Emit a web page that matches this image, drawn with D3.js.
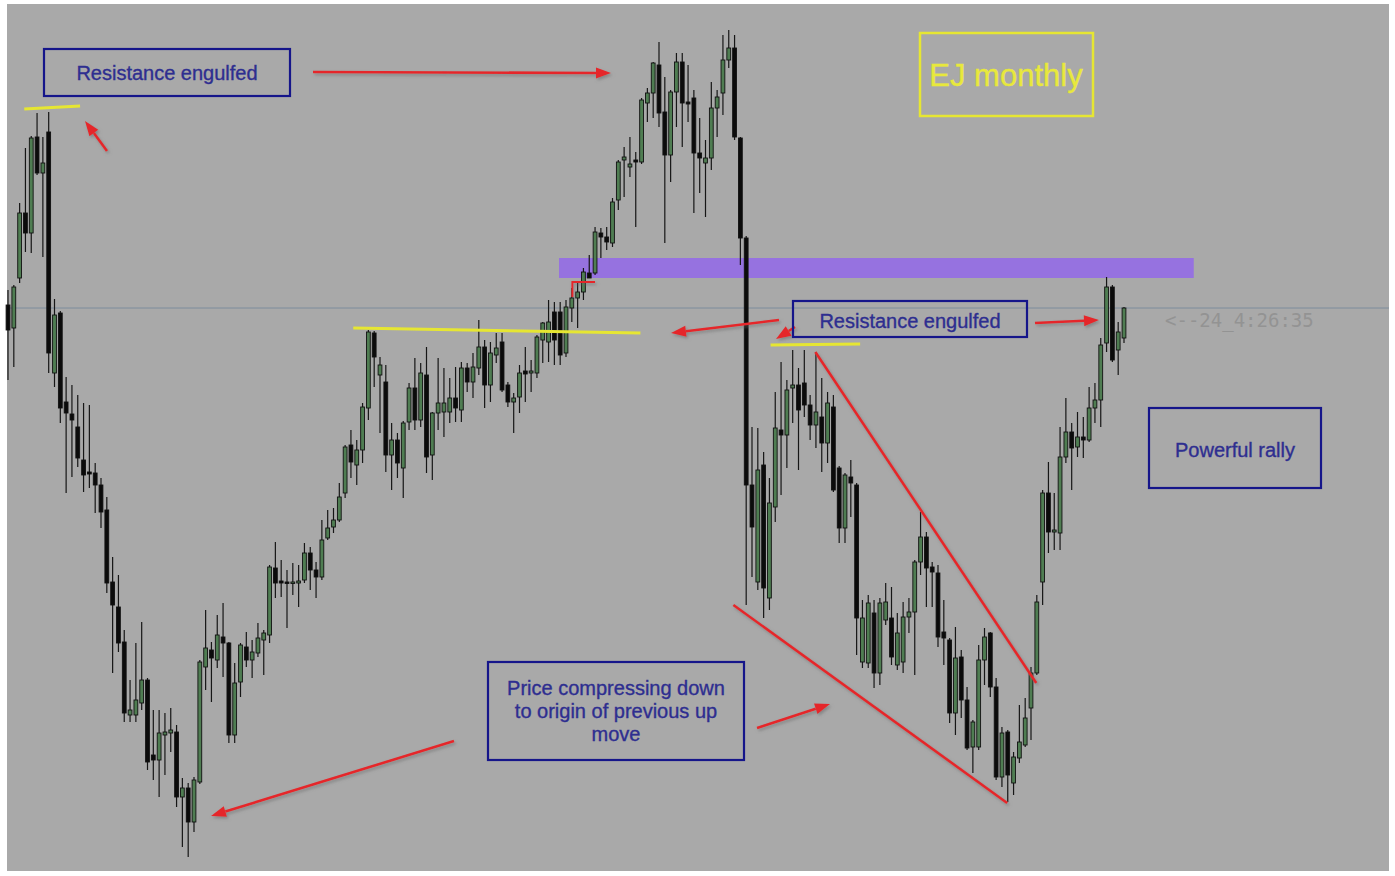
<!DOCTYPE html>
<html>
<head>
<meta charset="utf-8">
<script src="https://cdn.jsdelivr.net/npm/d3@7"></script>
<style>
  body { margin: 0; background: #fff; }
  text { font-family: "Liberation Sans", Arial, sans-serif; }
</style>
</head>
<body>
<script>
// EJ (EUR/JPY) monthly candles, Mar 1998 - Mar 2014
var months = d3.timeMonth.range(new Date(1998, 2, 1), new Date(2014, 3, 1));

var opens = [
  144.5, 142.2, 147.2, 153.7, 151.7, 161.3, 157.7, 161.8, 137.7, 143.7,
  134.8, 133.6, 132.3, 129.0, 127.8, 127.7, 126.5, 124.0, 116.8, 114.3,
  110.8, 103.5, 103.5, 104.7, 107.0, 99.5, 99.0, 101.5, 101.7, 101.8,
  95.3, 96.2, 92.8, 96.8, 108.3, 110.0, 109.0, 111.3, 110.7, 101.5,
  106.8, 110.3, 109.0, 109.7, 111.0, 111.5, 118.2, 116.9, 116.8, 116.7,
  116.7, 117.0, 119.7, 118.0, 117.3, 121.2, 122.3, 123.0, 125.7, 130.5,
  128.5, 130.0, 134.2, 141.7, 137.5, 136.8, 129.5, 131.0, 128.2, 132.8,
  136.2, 133.0, 137.5, 129.5, 133.7, 133.8, 133.8, 135.2, 134.0, 138.2,
  136.8, 138.2, 140.3, 136.5, 139.5, 140.8, 136.5, 134.8, 135.3, 137.9,
  137.7, 137.7, 141.0, 140.8, 143.8, 143.8, 139.7, 144.2, 145.2, 145.8,
  147.7, 147.7, 151.7, 151.3, 150.7, 155.0, 159.0, 158.3, 159.0, 158.8,
  164.7, 165.7, 168.5, 163.8, 159.5, 165.8, 168.8, 164.8, 165.2, 159.7,
  158.7, 159.2, 164.2, 165.7, 169.0, 170.2, 161.2, 151.2, 126.5, 116.8,
  128.5, 115.2, 124.3, 132.0, 131.5, 136.2, 136.5, 136.7, 134.5, 132.5,
  133.3, 130.7, 134.3, 128.2, 122.2, 127.3, 126.5, 108.8, 108.7, 113.7,
  107.7, 113.0, 113.2, 108.5, 108.8, 113.3, 113.8, 118.8, 121.3, 118.3,
  117.7, 111.8, 111.0, 103.7, 109.3, 105.0, 100.3, 100.3, 109.0, 111.7,
  106.3, 97.3, 101.8, 96.7, 99.2, 100.5, 104.2, 107.7, 116.8, 125.7,
  121.8, 121.7, 129.3, 131.8, 130.3, 131.3, 131.0, 134.2, 135.0, 140.7,
  146.3, 140.0, 141.2
];
var highs = [
  146.0, 146.5, 154.7, 160.2, 161.4, 163.7, 161.3, 163.8, 145.1, 143.9,
  137.3, 136.5, 135.5, 134.7, 134.5, 128.7, 127.2, 125.3, 119.3, 117.5,
  112.0, 107.0, 110.7, 112.8, 107.2, 104.0, 104.0, 103.7, 104.2, 102.5,
  97.2, 96.7, 97.3, 109.0, 114.0, 110.8, 113.5, 114.7, 110.8, 108.7,
  110.7, 111.8, 111.0, 112.7, 112.0, 118.5, 120.8, 119.0, 118.0, 118.7,
  118.5, 120.7, 120.3, 118.8, 123.0, 124.0, 124.2, 126.7, 130.5, 132.0,
  131.0, 134.7, 142.0, 141.9, 139.3, 138.5, 132.7, 131.7, 132.9, 136.7,
  139.2, 138.7, 140.3, 133.8, 139.2, 138.2, 137.2, 138.3, 138.8, 138.7,
  139.7, 143.0, 141.0, 140.8, 141.7, 141.7, 136.8, 135.7, 138.5, 140.3,
  139.0, 141.5, 142.8, 145.0, 144.8, 144.8, 145.0, 146.2, 146.7, 148.2,
  149.5, 152.3, 152.2, 152.3, 155.2, 159.0, 160.3, 161.3, 159.8, 165.2,
  166.2, 168.8, 170.8, 167.3, 166.0, 169.7, 169.7, 168.5, 166.0, 163.2,
  161.0, 166.8, 166.0, 171.5, 172.0, 171.5, 161.3, 151.4, 132.3, 132.2,
  129.8, 127.2, 135.8, 138.8, 137.0, 140.0, 138.2, 140.0, 135.5, 139.8,
  137.2, 135.8, 135.5, 128.4, 127.7, 129.0, 126.7, 115.0, 115.5, 115.0,
  115.2, 116.7, 116.3, 113.7, 114.8, 115.2, 119.0, 123.8, 121.8, 118.8,
  118.5, 115.0, 111.2, 112.3, 110.0, 106.3, 103.0, 110.5, 112.2, 111.8,
  107.2, 102.3, 102.0, 99.8, 104.5, 105.2, 108.3, 115.5, 126.0, 128.8,
  125.7, 132.3, 135.2, 132.7, 133.8, 133.3, 136.3, 136.7, 141.2, 147.3,
  146.5, 142.8, 144.3
];
var lows = [
  137.0, 138.3, 146.7, 149.8, 149.7, 157.5, 149.3, 137.7, 136.3, 132.7,
  125.7, 127.3, 128.3, 125.8, 126.2, 123.7, 122.2, 115.7, 107.7, 109.8,
  102.8, 102.8, 102.8, 104.0, 98.0, 97.0, 95.3, 97.5, 99.8, 94.3,
  90.3, 89.3, 91.8, 96.6, 106.0, 104.8, 108.2, 107.3, 100.7, 100.7,
  105.3, 108.3, 107.2, 109.3, 107.5, 110.7, 115.2, 115.3, 112.2, 115.5,
  114.3, 116.7, 116.0, 115.2, 117.0, 121.0, 121.7, 122.8, 125.2, 127.2,
  126.5, 128.7, 133.0, 136.3, 131.7, 127.8, 126.0, 127.2, 125.2, 132.0,
  132.0, 132.3, 127.7, 127.0, 132.0, 131.3, 132.7, 132.8, 132.8, 135.8,
  135.2, 137.5, 134.2, 134.8, 138.7, 135.8, 134.3, 131.7, 133.7, 134.8,
  135.8, 137.2, 138.7, 138.8, 138.5, 138.5, 139.3, 142.8, 142.2, 145.0,
  147.2, 147.5, 149.2, 150.0, 150.3, 154.0, 155.3, 157.3, 152.3, 158.6,
  162.8, 163.2, 162.3, 150.7, 156.8, 162.3, 160.3, 162.8, 153.7, 155.7,
  153.3, 158.0, 161.3, 163.5, 168.2, 161.0, 148.5, 114.5, 117.3, 116.0,
  113.2, 114.0, 122.8, 125.5, 128.2, 132.7, 128.0, 133.3, 131.0, 130.2,
  127.8, 128.7, 125.8, 120.7, 120.7, 123.3, 109.5, 108.2, 108.2, 106.2,
  106.5, 112.5, 108.5, 108.0, 107.7, 111.7, 107.5, 117.5, 114.3, 114.3,
  110.3, 108.5, 102.7, 101.5, 103.2, 100.0, 97.7, 100.0, 106.5, 105.3,
  97.0, 96.3, 94.8, 95.5, 98.7, 100.3, 101.0, 107.5, 114.5, 119.7,
  120.0, 120.0, 128.7, 126.0, 129.3, 129.2, 130.8, 132.7, 132.3, 139.8,
  138.8, 137.5, 140.7
];
var closes = [
  142.0, 146.3, 153.7, 151.7, 161.2, 157.7, 158.7, 139.7, 143.5, 134.2,
  133.7, 133.0, 129.2, 127.5, 127.6, 126.5, 123.8, 116.7, 114.5, 110.7,
  103.7, 104.0, 105.0, 107.0, 98.8, 99.0, 101.7, 101.8, 102.0, 95.3,
  96.2, 92.8, 97.0, 108.8, 110.2, 109.2, 111.5, 110.7, 101.5, 106.7,
  110.5, 109.0, 109.8, 111.2, 111.7, 118.3, 116.7, 116.7, 116.7, 116.8,
  116.9, 119.7, 118.0, 117.3, 121.0, 122.2, 123.0, 125.3, 130.3, 128.8,
  130.0, 134.3, 141.8, 139.3, 138.5, 129.5, 131.0, 128.7, 132.7, 136.2,
  133.0, 137.7, 129.3, 133.7, 134.7, 134.7, 135.2, 134.2, 138.2, 136.8,
  138.3, 140.3, 136.5, 139.7, 140.2, 136.0, 134.8, 135.2, 137.7, 137.6,
  137.9, 141.3, 142.7, 142.8, 141.0, 139.5, 144.3, 145.2, 145.8, 147.8,
  147.2, 151.8, 151.3, 150.8, 154.8, 158.8, 159.3, 158.6, 158.8, 165.0,
  165.7, 168.7, 163.7, 159.5, 165.8, 168.8, 164.7, 164.6, 159.7, 159.2,
  159.2, 164.2, 165.3, 169.0, 170.2, 161.3, 151.2, 126.5, 122.3, 128.0,
  116.2, 124.7, 132.2, 131.5, 136.0, 136.5, 134.0, 134.5, 132.5, 133.8,
  130.7, 134.7, 126.0, 122.2, 127.5, 126.7, 113.2, 113.2, 114.7, 107.7,
  114.7, 114.8, 109.3, 111.7, 113.3, 113.8, 118.8, 121.3, 118.2, 117.8,
  111.3, 111.2, 103.7, 109.2, 105.0, 100.2, 102.8, 109.0, 111.3, 106.3,
  97.3, 101.7, 97.5, 99.3, 100.8, 103.2, 107.7, 114.8, 125.7, 121.8,
  122.0, 129.3, 131.8, 130.2, 131.3, 131.0, 134.2, 135.0, 140.5, 146.3,
  139.0, 141.8, 144.2
];

// drawn levels, in [candle index, price] pairs
var resistanceLines = [[2.8, 164.1, 12.4, 164.4], [59.4, 142.2, 108.8, 141.7], [131.2, 140.5, 146.6, 140.6]];
var wedgeLines = [[138.9, 139.8, 176.9, 106.7], [124.8, 114.5, 171.9, 94.7]];
var supplyZone = [94.8, 204.0, 147.2, 149.2];
var breakoutMark = [97.1, 145.3, 97.1, 146.8, 101.0, 146.8];

var svgWidth = 1395;
var svgHeight = 876;

var svg = d3.select("body")
  .append("svg")
  .attr("width", svgWidth)
  .attr("height", svgHeight);

var defs = svg.append("defs");
defs.append("filter").attr("id", "shade")
  .attr("x", "-20%").attr("y", "-20%").attr("width", "140%").attr("height", "140%")
  .append("feDropShadow")
  .attr("dx", 1.5).attr("dy", 2).attr("stdDeviation", 1.6)
  .attr("flood-color", "#666").attr("flood-opacity", 0.55);

// chart background
svg.append("rect")
  .attr("x", 7).attr("y", 4)
  .attr("width", 1382).attr("height", 867)
  .attr("fill", "#a9a9a9");

var candles = months.map(function (m, i) {
  return { date: m, o: opens[i], h: highs[i], l: lows[i], c: closes[i] };
});

var x = d3.scaleLinear().domain([0, candles.length - 1]).range([8, 1124]);
var y = d3.scaleLinear().domain([87.4, 175]).range([876, 0]);

var red = "#e5282a";
var yellow = "#e6e632";
var navy = "#15158a";

// supply zone
svg.append("rect")
  .attr("x", x(supplyZone[0]))
  .attr("y", y(supplyZone[3]))
  .attr("width", x(supplyZone[1]) - x(supplyZone[0]))
  .attr("height", y(supplyZone[2]) - y(supplyZone[3]))
  .attr("fill", "#9672e0");

// last price line
var last = closes[closes.length - 1];
svg.append("line")
  .attr("x1", 7).attr("x2", 1389)
  .attr("y1", y(last)).attr("y2", y(last))
  .attr("stroke", "#7d8c9c").attr("stroke-width", 1);

svg.append("text")
  .attr("x", 1165).attr("y", y(last) + 19)
  .style("font-family", "'DejaVu Sans Mono', monospace")
  .style("font-size", "19px")
  .attr("fill", "#939393")
  .text("<--24_4:26:35");

// candles
var candleGroup = svg.append("g");

var candle = candleGroup.selectAll("g")
    .data(candles)
  .enter().append("g")
    .attr("transform", function (d, i) { return "translate(" + x(i) + ",0)"; });

candle.append("line")
  .attr("y1", d => y(d.h))
  .attr("y2", d => y(d.l))
  .attr("stroke", "#161616")
  .attr("stroke-width", 1.2);

candle.append("rect")
  .attr("x", -1.9)
  .attr("width", 3.8)
  .attr("y", d => y(Math.max(d.o, d.c)))
  .attr("height", d => Math.max(1.5, Math.abs(y(d.o) - y(d.c))))
  .attr("fill", d => d.c >= d.o ? "#4f7d52" : "#0b0b0b")
  .attr("stroke", "#111")
  .attr("stroke-width", 0.9);

// yellow resistance lines
svg.append("g").selectAll("line")
    .data(resistanceLines)
  .enter().append("line")
    .attr("x1", d => x(d[0])).attr("y1", d => y(d[1]))
    .attr("x2", d => x(d[2])).attr("y2", d => y(d[3]))
    .attr("stroke", yellow)
    .attr("stroke-width", 3);

// wedge
var annot = svg.append("g").attr("filter", "url(#shade)");

annot.selectAll("line.wedge")
    .data(wedgeLines)
  .enter().append("line")
    .attr("class", "wedge")
    .attr("x1", d => x(d[0])).attr("y1", d => y(d[1]))
    .attr("x2", d => x(d[2])).attr("y2", d => y(d[3]))
    .attr("stroke", red)
    .attr("stroke-width", 2.6);

annot.append("path")
  .attr("d", "M" + x(breakoutMark[0]) + "," + y(breakoutMark[1]) +
    "L" + x(breakoutMark[2]) + "," + y(breakoutMark[3]) +
    "L" + x(breakoutMark[4]) + "," + y(breakoutMark[5]))
  .attr("fill", "none")
  .attr("stroke", red)
  .attr("stroke-width", 2);

// callout arrows
var callouts = [
  [313, 72, 611, 73],
  [107, 151, 85, 121],
  [779, 320, 671, 333],
  [795, 327, 776, 339],
  [1035, 323, 1099, 320],
  [454, 741, 211, 816],
  [757, 728, 830, 704]
];

callouts.forEach(function (a) {
  var ang = Math.atan2(a[3] - a[1], a[2] - a[0]);
  var len = 15, wid = 5.5;
  var bx = a[2] - len * Math.cos(ang);
  var by = a[3] - len * Math.sin(ang);
  annot.append("line")
    .attr("x1", a[0]).attr("y1", a[1])
    .attr("x2", bx).attr("y2", by)
    .attr("stroke", red)
    .attr("stroke-width", 2.6);
  annot.append("path")
    .attr("d", "M" + a[2] + "," + a[3] +
      "L" + (bx + wid * Math.sin(ang)) + "," + (by - wid * Math.cos(ang)) +
      "L" + (bx - wid * Math.sin(ang)) + "," + (by + wid * Math.cos(ang)) + "Z")
    .attr("fill", red);
});

// text boxes
var notes = [
  { x: 44, y: 49, w: 246, h: 47, lines: ["Resistance engulfed"], base: 80 },
  { x: 793, y: 301, w: 234, h: 36, lines: ["Resistance engulfed"], base: 328 },
  { x: 1149, y: 408, w: 172, h: 80, lines: ["Powerful rally"], base: 457 },
  { x: 488, y: 662, w: 256, h: 98, lines: ["Price compressing down", "to origin of previous up", "move"], base: 695 }
];

var noteGroup = svg.append("g");

notes.forEach(function (n) {
  noteGroup.append("rect")
    .attr("x", n.x).attr("y", n.y)
    .attr("width", n.w).attr("height", n.h)
    .attr("fill", "none")
    .attr("stroke", navy)
    .attr("stroke-width", 2.2);
  n.lines.forEach(function (t, k) {
    noteGroup.append("text")
      .attr("x", n.x + n.w / 2)
      .attr("y", n.base + k * 23)
      .attr("text-anchor", "middle")
      .style("font-size", "20px")
      .attr("fill", "#2e2e90")
      .attr("stroke", "#2e2e90")
      .attr("stroke-width", 0.35)
      .text(t);
  });
});

// title box
svg.append("rect")
  .attr("x", 920).attr("y", 33)
  .attr("width", 173).attr("height", 83)
  .attr("fill", "none")
  .attr("stroke", yellow)
  .attr("stroke-width", 2.5);

svg.append("text")
  .attr("x", 1006).attr("y", 86)
  .attr("text-anchor", "middle")
  .style("font-size", "31px")
  .attr("fill", "#e8e83c")
  .attr("stroke", "#e8e83c")
  .attr("stroke-width", 0.4)
  .text("EJ monthly");
</script>
</body>
</html>
